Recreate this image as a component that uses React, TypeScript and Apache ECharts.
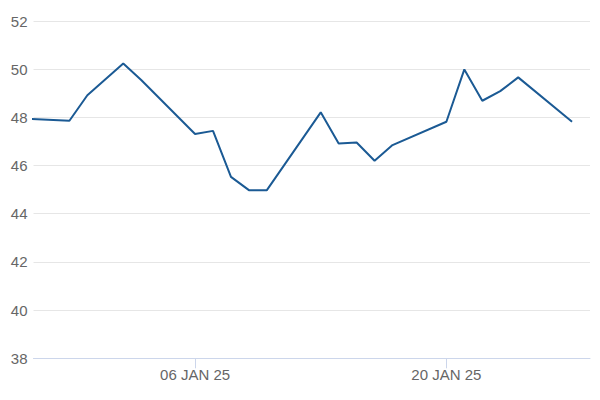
import React, { useEffect, useRef } from "react";
import * as echarts from "echarts";

const dates = [
  "2024-12-27", "2024-12-30", "2024-12-31", "2025-01-02", "2025-01-03",
  "2025-01-06", "2025-01-07", "2025-01-08", "2025-01-09", "2025-01-10",
  "2025-01-13", "2025-01-14", "2025-01-15", "2025-01-16", "2025-01-17",
  "2025-01-20", "2025-01-21", "2025-01-22", "2025-01-23", "2025-01-24",
  "2025-01-27",
];
const values = [
  47.97, 47.86, 48.92, 50.24, 49.55,
  47.31, 47.44, 45.53, 44.98, 44.98,
  48.21, 46.92, 46.96, 46.2, 46.85,
  47.82, 49.99, 48.69, 49.09, 49.66,
  47.82,
];
const xTickDates = ["2025-01-06", "2025-01-20"];
const xRange = ["2024-12-28", "2025-01-28"];
const yTicks = [38, 40, 42, 44, 46, 48, 50, 52];

const MONTHS = ["JAN", "FEB", "MAR", "APR", "MAY", "JUN", "JUL", "AUG", "SEP", "OCT", "NOV", "DEC"];
const DAY = 86400000;
const toTs = (s: string) => {
  const [y, m, d] = s.split("-").map(Number);
  return Date.UTC(y, m - 1, d);
};
// x positions are expressed in days relative to the first labelled tick date
const ORIGIN = toTs(xTickDates[0]);
const toDay = (s: string) => Math.round((toTs(s) - ORIGIN) / DAY);
const fmt = (day: number) => {
  const d = new Date(ORIGIN + day * DAY);
  const dd = String(d.getUTCDate()).padStart(2, "0");
  const yy = String(d.getUTCFullYear() % 100).padStart(2, "0");
  return `${dd} ${MONTHS[d.getUTCMonth()]} ${yy}`;
};

export default function App() {
  const ref = useRef<HTMLDivElement>(null);
  useEffect(() => {
    if (!ref.current) return;
    const chart = echarts.init(ref.current, undefined, { renderer: "svg" });
    const font = "'Liberation Sans', Arial, sans-serif";
    const tickVals = xTickDates.map(toDay);
    const gridTop = 21;
    const gridBottom = 41.7;
    chart.setOption({
      animation: false,
      backgroundColor: "#ffffff",
      grid: [{ left: 33.5, right: 10, top: gridTop, bottom: gridBottom, containLabel: false }],
      xAxis: [
        {
          type: "value",
          gridIndex: 0,
          min: toDay(xRange[0]),
          max: toDay(xRange[1]),
          axisLine: { show: true, lineStyle: { color: "#ccd6eb", width: 1 } },
          axisTick: { show: false },
          axisLabel: { show: false },
          splitLine: { show: false },
        },
      ],
      yAxis: [
        {
          type: "value",
          gridIndex: 0,
          min: yTicks[0],
          max: yTicks[yTicks.length - 1],
          interval: 2,
          axisLine: { show: false },
          axisTick: { show: false },
          axisLabel: {
            color: "#666666",
            fontSize: 15,
            fontFamily: font,
            margin: 6,
          },
          splitLine: { show: true, lineStyle: { color: "#e6e6e6", width: 1 } },
        },
      ],
      series: [
        {
          type: "line",
          xAxisIndex: 0,
          yAxisIndex: 0,
          data: dates.map((d, i) => [toDay(d), values[i]]),
          showSymbol: false,
          symbol: "none",
          clip: true,
          lineStyle: { color: "#1b5a94", width: 2 },
          itemStyle: { color: "#1b5a94" },
        },
      ],
    });

    // Tick axis: a second grid spanning exactly the labelled dates, positioned via the main axis scale
    const pxA = chart.convertToPixel({ xAxisIndex: 0 }, tickVals[0]) as number;
    const pxB = chart.convertToPixel({ xAxisIndex: 0 }, tickVals[tickVals.length - 1]) as number;
    chart.setOption({
      grid: [
        { left: 33.5, right: 10, top: gridTop, bottom: gridBottom, containLabel: false },
        { left: pxA, width: pxB - pxA, top: gridTop, bottom: gridBottom, containLabel: false },
      ],
      xAxis: [
        {},
        {
          type: "value",
          gridIndex: 1,
          min: tickVals[0],
          max: tickVals[tickVals.length - 1],
          interval: tickVals[tickVals.length - 1] - tickVals[0],
          axisLine: { show: false },
          axisTick: { show: true, length: 10, lineStyle: { color: "#ccd6eb", width: 1 } },
          axisLabel: {
            show: true,
            formatter: (v: number) => fmt(v),
            color: "#666666",
            fontSize: 15,
            fontFamily: font,
            margin: 9,
            hideOverlap: false,
          },
          splitLine: { show: false },
        },
      ],
      yAxis: [
        {},
        {
          type: "value",
          gridIndex: 1,
          min: yTicks[0],
          max: yTicks[yTicks.length - 1],
          show: false,
        },
      ],
    });
    return () => chart.dispose();
  }, []);
  return <div ref={ref} style={{ width: 600, height: 400, position: "absolute", left: 0, top: 0 }} />;
}
